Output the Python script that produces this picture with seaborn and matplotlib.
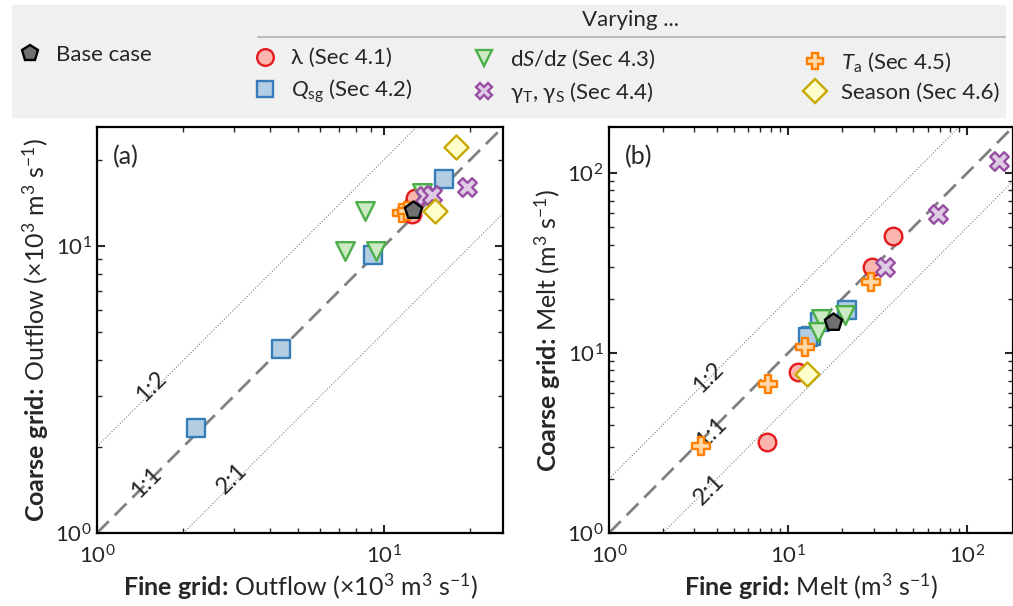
import numpy as np
import pandas as pd
import seaborn as sns
import matplotlib.pyplot as plt
from matplotlib.lines import Line2D
from matplotlib.patches import Rectangle
from matplotlib.font_manager import FontProperties

sns.set_theme(style='ticks')
plt.rcParams['font.family'] = ['Lato', 'DejaVu Sans']
plt.rcParams['mathtext.fontset'] = 'custom'
plt.rcParams['mathtext.rm'] = 'Lato'
plt.rcParams['mathtext.it'] = 'Lato:italic'
plt.rcParams['mathtext.bf'] = 'Lato:bold'

# ---------- data: (fine grid, coarse grid) ----------
# panel (a): outflow, x10^3 m3/s
out_base_x = [12.65]
out_base_y = [13.4]
out_lam_x = [12.3, 12.5, 12.6, 12.8]
out_lam_y = [13.5, 12.9, 13.9, 14.7]
out_qsg_x = [2.21, 4.39, 9.18, 16.2]
out_qsg_y = [2.33, 4.39, 9.31, 17.1]
out_dsdz_x = [7.33, 9.38, 8.58, 13.6]
out_dsdz_y = [9.58, 9.58, 13.2, 15.3]
out_gam_x = [13.9, 14.7, 19.4]
out_gam_y = [14.9, 15.1, 16.1]
out_ta_x = [11.6, 12.0]
out_ta_y = [13.0, 13.2]
out_season_x = [17.9, 15.1]
out_season_y = [22.1, 13.2]

# panel (b): melt, m3/s
melt_base_x = [17.8]
melt_base_y = [14.9]
melt_lam_x = [38.4, 29.3, 11.3, 7.66]
melt_lam_y = [44.9, 30.2, 7.8, 3.19]
melt_qsg_x = [21.2, 15.1, 13.4, 12.9]
melt_qsg_y = [17.3, 14.9, 12.5, 12.3]
melt_dsdz_x = [20.7, 15.3, 14.7]
melt_dsdz_y = [16.3, 15.5, 13.1]
melt_gam_x = [150.8, 68.9, 34.8]
melt_gam_y = [117.0, 59.2, 29.9]
melt_ta_x = [29.1, 12.5, 7.72, 3.28]
melt_ta_y = [24.7, 10.8, 6.70, 3.05]
melt_season_x = [12.8]
melt_season_y = [7.64]

groups = ['lam', 'qsg', 'dsdz', 'gam', 'ta', 'season', 'base']
labels = {
    'lam': 'λ (Sec 4.1)',
    'qsg': r'$Q_\mathrm{sg}$ (Sec 4.2)',
    'dsdz': r'd$S$/d$z$ (Sec 4.3)',
    'gam': r'γ$_\mathrm{T}$, γ$_\mathrm{S}$ (Sec 4.4)',
    'ta': r'$T_\mathrm{a}$ (Sec 4.5)',
    'season': 'Season (Sec 4.6)',
    'base': 'Base case',
}
style = {  # marker, face, edge
    'lam': ('o', '#fbb4ae', '#e41a1c'),
    'qsg': ('s', '#b3cde3', '#377eb8'),
    'dsdz': ('v', '#ccebc5', '#4daf4a'),
    'gam': ('X', '#decbe4', '#984ea3'),
    'ta': ('P', '#fed9a6', '#ff7f00'),
    'season': ('D', '#ffffcc', '#c8a800'),
    'base': ('p', '#707070', 'black'),
}

def frame(prefix):
    rows = []
    for g in groups:
        xs = globals()[f'{prefix}_{g}_x']
        ys = globals()[f'{prefix}_{g}_y']
        for x, y in zip(xs, ys):
            rows.append({'fine': x, 'coarse': y, 'group': g})
    return pd.DataFrame(rows)

df_out = frame('out')
df_melt = frame('melt')

# ---------- figure ----------
fig = plt.figure(figsize=(10.13, 6.06), dpi=100)
ax_a = fig.add_axes([97/1013, 1-533/606, 406/1013, 406/606])
ax_b = fig.add_axes([609/1013, 1-533/606, 404/1013, 406/606])

sizes = {'o': 160, 's': 160, 'v': 180, 'X': 180, 'P': 180, 'D': 150, 'p': 170}

def panel(ax, df, top, tag, quantity, unit):
    ax.set_xscale('log')
    ax.set_yscale('log')
    ax.plot([1, top], [1, top], color='#808080', lw=2, ls=(0, (6, 3)), zorder=1)
    ax.plot([1, top/2], [2, top], color='#808080', lw=0.8, ls=':', zorder=1)
    ax.plot([2, top], [1, top/2], color='#808080', lw=0.8, ls=':', zorder=1)
    for g in groups:
        m, fc, ec = style[g]
        sub = df[df['group'] == g]
        sns.scatterplot(data=sub, x='fine', y='coarse', ax=ax, marker=m, s=sizes[m],
                        color=fc, edgecolor=ec, linewidth=1.7, zorder=3, legend=False)
    ax.set_xlim(1, top)
    ax.set_ylim(1, top)
    ax.text(0.04, 0.955, tag, transform=ax.transAxes, fontsize=18, va='top')
    ax.set_xlabel(r'$\mathbf{Fine\ grid\!:}\,$' + quantity + ' ' + unit, fontsize=18,
                  labelpad=3)
    ax.set_ylabel(r'$\mathbf{Coarse\ grid\!:}\,$' + quantity + ' ' + unit, fontsize=18,
                  labelpad=3)
    ax.tick_params(which='both', direction='in', top=True, right=True)
    ax.tick_params(which='major', length=6, width=1.5, labelsize=16, pad=4)
    ax.tick_params(axis='x', which='major', pad=8)
    ax.tick_params(which='minor', length=3.5, width=1)
    for sp in ax.spines.values():
        sp.set_linewidth(1.6)
        sp.set_color('black')

panel(ax_a, df_out, 26, '(a)', 'Outflow', r'(×10$^3$ m$^3$ s$^{-1}$)')
panel(ax_b, df_melt, 180, '(b)', 'Melt', r'(m$^3$ s$^{-1}$)')

# ratio line labels
for ax, pos in [(ax_a, [(1.55, 3.25, '1:2'), (1.48, 1.50, '1:1'), (2.95, 1.55, '2:1')]),
                (ax_b, [(3.6, 7.3, '1:2'), (3.7, 3.6, '1:1'), (3.6, 1.75, '2:1')])]:
    for x, y, t in pos:
        ax.text(x, y, t, rotation=45, ha='center', va='center', fontsize=17, zorder=2)

# ---------- legend box ----------
fig.patches.append(Rectangle((12/1013, 1-117/606), 993/1013, 112/606,
                             transform=fig.transFigure, color='#f0f0f0', zorder=0))

def handle(g):
    m, fc, ec = style[g]
    return Line2D([], [], ls='none', marker=m, markersize=12, markerfacecolor=fc,
                  markeredgecolor=ec, markeredgewidth=1.7, label=labels[g])

prop = FontProperties(family=['Lato', 'DejaVu Sans'], size=16)
leg_kw = dict(frameon=False, prop=prop, borderpad=0, handlelength=1.0,
              handletextpad=0.65, labelspacing=0.4, borderaxespad=0)

fig.legend(handles=[handle('base')], loc='center left',
           bbox_to_anchor=(19/1013, 1-55/606), **leg_kw)
for cols, x0 in [(('lam', 'qsg'), 254), (('dsdz', 'gam'), 473), (('ta', 'season'), 804)]:
    fig.legend(handles=[handle(g) for g in cols], loc='center left',
               bbox_to_anchor=(x0/1013, 1-76.5/606), **leg_kw)

fig.text(630/1013, 1-20/606, 'Varying ...', ha='center', va='center', fontsize=16)
fig.add_artist(Line2D([258/1013, 1005/1013], [1-37/606, 1-37/606],
                      transform=fig.transFigure, color='#bbbbbb', lw=1.5))

fig.savefig('out.png', dpi=100)
